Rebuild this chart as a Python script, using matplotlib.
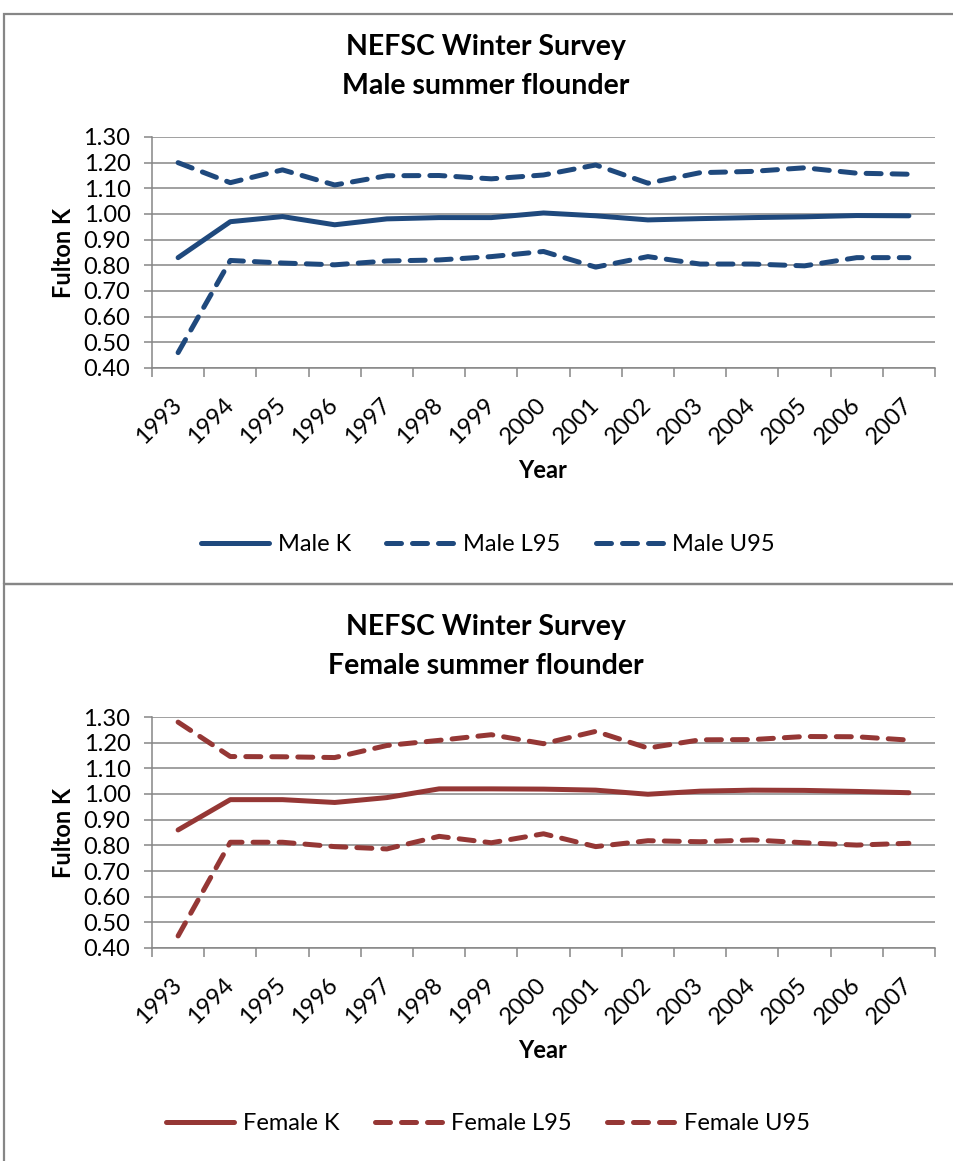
import numpy as np
import matplotlib
matplotlib.use("Agg")
from matplotlib import pyplot as plt
from matplotlib.patches import Rectangle
from matplotlib.lines import Line2D

plt.rcParams["font.family"] = ["Lato", "DejaVu Sans"]

years = [str(y) for y in range(1993, 2008)]

male_k = [0.83, 0.97, 0.99, 0.958, 0.981, 0.986, 0.986, 1.004, 0.993, 0.977,
          0.982, 0.986, 0.989, 0.994, 0.993]
male_l95 = [0.46, 0.819, 0.809, 0.802, 0.817, 0.821, 0.834, 0.854, 0.793, 0.834,
            0.805, 0.805, 0.798, 0.83, 0.83]
male_u95 = [1.20, 1.122, 1.172, 1.113, 1.149, 1.15, 1.137, 1.152, 1.191, 1.12,
            1.161, 1.166, 1.18, 1.159, 1.155]

female_k = [0.86, 0.978, 0.978, 0.967, 0.986, 1.02, 1.02, 1.019, 1.015, 0.999,
            1.011, 1.015, 1.014, 1.01, 1.005]
female_l95 = [0.447, 0.812, 0.812, 0.795, 0.786, 0.835, 0.81, 0.845, 0.795, 0.818,
              0.814, 0.821, 0.81, 0.801, 0.808]
female_u95 = [1.28, 1.146, 1.145, 1.142, 1.189, 1.209, 1.231, 1.196, 1.244, 1.179,
              1.211, 1.212, 1.224, 1.223, 1.21]

yticks = [0.40, 0.50, 0.60, 0.70, 0.80, 0.90, 1.00, 1.10, 1.20, 1.30]

BLUE = "#1F497D"
RED = "#953735"
GRID = "#868686"
W, H = 954, 1161
LW = 3.6
DASH = (0, (3.0, 2.2))
FS = 17


def panel(fig, ax_rect, title2, k, l95, u95, color, y0):
    ax = fig.add_axes(ax_rect)
    x = np.arange(len(years))
    ax.plot(x, k, color=color, lw=LW, solid_capstyle="round", solid_joinstyle="round")
    ax.plot(x, l95, color=color, lw=LW, ls=DASH, dash_capstyle="round")
    ax.plot(x, u95, color=color, lw=LW, ls=DASH, dash_capstyle="round")

    ax.set_xlim(-0.5, len(years) - 0.5)
    ax.set_ylim(0.40, 1.30)
    ax.set_yticks(yticks)
    ax.set_yticklabels(["%.2f" % v for v in yticks])
    ax.set_xticks(x)
    ax.set_xticklabels(years, rotation=45, ha="right", va="center",
                       rotation_mode="anchor")
    ax.set_xticks(np.arange(-0.5, len(years)), minor=True)
    ax.tick_params(axis="x", which="major", length=0, pad=24, labelsize=FS)
    ax.tick_params(axis="x", which="minor", length=6.5, width=1.1, color=GRID)
    ax.tick_params(axis="y", length=5.5, width=1.1, color=GRID, pad=10, labelsize=FS)
    ax.grid(axis="y", color=GRID, lw=1.1)
    ax.set_axisbelow(True)
    for s in ["top", "right"]:
        ax.spines[s].set_visible(False)
    for s in ["left", "bottom"]:
        ax.spines[s].set_color(GRID)
        ax.spines[s].set_linewidth(1.1)

    ax.set_ylabel("Fulton K", fontsize=FS, fontweight="bold", labelpad=6)

    fig.text(486 / W, 1 - (y0 + 33) / H, "NEFSC Winter Survey", ha="center",
             va="center", fontsize=20.5, fontweight="bold")
    fig.text(486 / W, 1 - (y0 + 72) / H, title2, ha="center", va="center",
             fontsize=20.5, fontweight="bold")
    return ax


fig = plt.figure(figsize=(W / 100, H / 100), dpi=100)

# chart frames
fig.patches.append(Rectangle((4 / W, 1 - 584 / H), 1, (584 - 14) / H,
                             transform=fig.transFigure, fill=False,
                             ec=GRID, lw=1.6))
fig.patches.append(Rectangle((4 / W, -0.01), 1, 1 - 584 / H + 0.01,
                             transform=fig.transFigure, fill=False,
                             ec=GRID, lw=1.6))

ax1 = panel(fig, [152 / W, 1 - 368 / H, 783 / W, 231 / H], "Male summer flounder",
            male_k, male_l95, male_u95, BLUE, 14)
fig.text(543 / W, 1 - 471 / H, "Year", ha="center", va="center",
         fontsize=FS, fontweight="bold")

ax2 = panel(fig, [152 / W, 1 - 948 / H, 783 / W, 231 / H], "Female summer flounder",
            female_k, female_l95, female_u95, RED, 594)
fig.text(543 / W, 1 - 1051 / H, "Year", ha="center", va="center",
         fontsize=FS, fontweight="bold")


def legend(labels, color, xcen, ycen):
    handles = [Line2D([], [], color=color, lw=LW, solid_capstyle="round"),
               Line2D([], [], color=color, lw=LW, ls=DASH, dash_capstyle="round"),
               Line2D([], [], color=color, lw=LW, ls=DASH, dash_capstyle="round")]
    fig.legend(handles, labels, loc="center", bbox_to_anchor=(xcen / W, 1 - ycen / H),
               ncol=3, frameon=False, fontsize=FS, handlelength=2.9,
               handletextpad=0.35, columnspacing=1.5)


legend(["Male K", "Male L95", "Male U95"], BLUE, 488, 545)
legend(["Female K", "Female L95", "Female U95"], RED, 488, 1124)

fig.savefig("out.png", dpi=100)
